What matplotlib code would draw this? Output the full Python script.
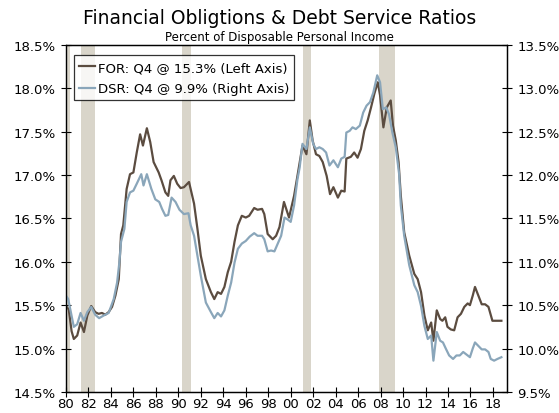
import matplotlib
matplotlib.use("Agg")
import matplotlib.pyplot as plt

# Financial obligations ratio (left axis), % of disposable personal income
for_year = [1980.0, 1980.25, 1980.5, 1980.7, 1981.0, 1981.3, 1981.6, 1981.9, 1982.25, 1982.6,
            1982.9, 1983.2, 1983.5, 1983.8, 1984.1, 1984.4, 1984.7, 1984.9, 1985.1, 1985.4,
            1985.7, 1986.0, 1986.3, 1986.6, 1986.85, 1987.2, 1987.5, 1987.8, 1988.25, 1988.5,
            1988.85, 1989.1, 1989.3, 1989.6, 1989.9, 1990.2, 1990.5, 1990.95, 1991.4, 1991.7,
            1992.0, 1992.45, 1992.9, 1993.2, 1993.5, 1993.8, 1994.1, 1994.4, 1994.7, 1995.0,
            1995.3, 1995.65, 1996.0, 1996.3, 1996.75, 1997.05, 1997.45, 1997.65, 1997.95, 1998.4,
            1998.7, 1999.0, 1999.4, 1999.85, 2000.3, 2000.6, 2001.05, 2001.4, 2001.7, 2001.95,
            2002.25, 2002.55, 2002.85, 2003.2, 2003.5, 2003.8, 2004.2, 2004.5, 2004.8, 2004.95,
            2005.35, 2005.65, 2005.95, 2006.25, 2006.55, 2006.85, 2007.15, 2007.45, 2007.75, 2007.95,
            2008.25, 2008.55, 2008.9, 2009.1, 2009.35, 2009.6, 2009.8, 2010.1, 2010.55, 2011.0,
            2011.3, 2011.6, 2011.9, 2012.2, 2012.5, 2012.7, 2013.0, 2013.3, 2013.5, 2013.75,
            2013.95, 2014.25, 2014.55, 2014.85, 2015.15, 2015.45, 2015.75, 2015.95, 2016.2, 2016.4,
            2016.7, 2017.0, 2017.3, 2017.6, 2017.95, 2018.3, 2018.75]
for_val = [15.49, 15.45, 15.20, 15.11, 15.15, 15.30, 15.19, 15.38, 15.49, 15.42,
           15.40, 15.41, 15.39, 15.42, 15.48, 15.61, 15.80, 16.32, 16.42, 16.84,
           17.01, 17.03, 17.26, 17.47, 17.34, 17.54, 17.38, 17.15, 17.03, 16.94,
           16.80, 16.76, 16.94, 16.99, 16.90, 16.85, 16.86, 16.92, 16.67, 16.38,
           16.07, 15.80, 15.65, 15.57, 15.65, 15.63, 15.71, 15.88, 16.00, 16.23,
           16.42, 16.53, 16.51, 16.53, 16.62, 16.60, 16.61, 16.55, 16.32, 16.26,
           16.30, 16.40, 16.69, 16.51, 16.76, 16.99, 17.34, 17.24, 17.63, 17.40,
           17.24, 17.22, 17.15, 16.99, 16.78, 16.86, 16.74, 16.82, 16.81, 17.19,
           17.21, 17.26, 17.20, 17.30, 17.51, 17.63, 17.78, 17.94, 18.07, 17.92,
           17.55, 17.78, 17.86, 17.57, 17.40, 17.15, 16.76, 16.34, 16.07, 15.86,
           15.80, 15.65, 15.38, 15.21, 15.30, 15.09, 15.44, 15.34, 15.32, 15.36,
           15.25, 15.22, 15.21, 15.36, 15.40, 15.48, 15.52, 15.50, 15.61, 15.71,
           15.61, 15.51, 15.51, 15.48, 15.32, 15.32, 15.32]

# Debt service ratio (right axis)
dsr_year = [1980.0, 1980.2, 1980.7, 1981.0, 1981.3, 1981.6, 1981.9, 1982.25, 1982.6, 1982.95,
            1983.35, 1983.8, 1984.25, 1984.55, 1984.75, 1984.9, 1985.2, 1985.4, 1985.7, 1986.0,
            1986.3, 1986.7, 1986.9, 1987.2, 1987.6, 1987.95, 1988.3, 1988.55, 1988.85, 1989.1,
            1989.4, 1989.75, 1990.1, 1990.5, 1990.9, 1991.1, 1991.4, 1991.7, 1992.0, 1992.45,
            1992.9, 1993.2, 1993.5, 1993.8, 1994.1, 1994.4, 1994.7, 1995.0, 1995.3, 1995.65,
            1996.0, 1996.35, 1996.75, 1997.05, 1997.45, 1997.65, 1997.95, 1998.25, 1998.55, 1998.85,
            1999.15, 1999.45, 1999.7, 2000.0, 2000.3, 2000.6, 2000.8, 2001.05, 2001.4, 2001.7,
            2002.0, 2002.25, 2002.55, 2002.85, 2003.15, 2003.45, 2003.8, 2004.2, 2004.5, 2004.8,
            2004.95, 2005.25, 2005.5, 2005.8, 2006.15, 2006.45, 2006.75, 2007.05, 2007.35, 2007.7,
            2007.95, 2008.2, 2008.5, 2008.75, 2009.05, 2009.35, 2009.65, 2009.8, 2010.1, 2010.55,
            2011.0, 2011.3, 2011.6, 2011.9, 2012.2, 2012.5, 2012.7, 2013.0, 2013.3, 2013.55,
            2013.8, 2014.1, 2014.45, 2014.75, 2015.05, 2015.35, 2015.65, 2015.95, 2016.2, 2016.4,
            2016.7, 2017.0, 2017.3, 2017.6, 2017.8, 2018.1, 2018.4, 2018.75]
dsr_val = [10.61, 10.57, 10.25, 10.28, 10.41, 10.32, 10.42, 10.48, 10.39, 10.35,
           10.38, 10.41, 10.57, 10.76, 10.99, 11.23, 11.38, 11.69, 11.80, 11.82,
           11.90, 12.01, 11.88, 12.01, 11.84, 11.72, 11.69, 11.61, 11.53, 11.54,
           11.74, 11.69, 11.60, 11.55, 11.56, 11.42, 11.30, 11.07, 10.84, 10.53,
           10.42, 10.35, 10.41, 10.37, 10.44, 10.61, 10.76, 10.99, 11.15, 11.21,
           11.24, 11.29, 11.33, 11.30, 11.30, 11.26, 11.12, 11.13, 11.12, 11.21,
           11.30, 11.51, 11.49, 11.46, 11.65, 11.95, 12.09, 12.36, 12.30, 12.55,
           12.36, 12.30, 12.32, 12.30, 12.26, 12.11, 12.17, 12.09, 12.19, 12.21,
           12.49, 12.51, 12.55, 12.53, 12.57, 12.72, 12.80, 12.84, 12.95, 13.15,
           13.07, 12.76, 12.78, 12.70, 12.49, 12.32, 12.01, 11.65, 11.30, 10.96,
           10.73, 10.65, 10.49, 10.26, 10.11, 10.15, 9.86, 10.19, 10.09, 10.07,
           10.00, 9.92, 9.88, 9.92, 9.92, 9.96, 9.93, 9.90, 10.00, 10.07,
           10.03, 9.99, 9.99, 9.96, 9.88, 9.86, 9.88, 9.90]

recessions = [(1980.0, 1980.35), (1981.33, 1982.58), (1990.3, 1991.1), (2001.1, 2001.8), (2007.85, 2009.27)]

left_ticks = [14.5, 15.0, 15.5, 16.0, 16.5, 17.0, 17.5, 18.0, 18.5]
right_ticks = [9.5, 10.0, 10.5, 11.0, 11.5, 12.0, 12.5, 13.0, 13.5]
x_ticks = list(range(1980, 2019, 2))

fig = plt.figure(figsize=(5.59, 4.14), dpi=100)
ax = fig.add_axes([0.118, 0.051, 0.789, 0.838])
ax2 = ax.twinx()

for a, b in recessions:
    ax.axvspan(a, b, color="#d9d5ca", lw=0, zorder=0)

ln1, = ax.plot(for_year, for_val, color="#5b4c40", lw=1.6,
               label="FOR: Q4 @ 15.3% (Left Axis)")
ln2, = ax2.plot(dsr_year, dsr_val, color="#8aa6ba", lw=1.6,
                label="DSR: Q4 @ 9.9% (Right Axis)")

ax.set_xlim(1980, 2019.25)
ax.set_ylim(14.5, 18.5)
ax2.set_ylim(9.5, 13.5)
ax.set_xticks(x_ticks)
ax.set_xticklabels(["%02d" % (y % 100) for y in x_ticks])
ax.set_yticks(left_ticks)
ax.set_yticklabels(["%.1f%%" % v for v in left_ticks])
ax2.set_yticks(right_ticks)
ax2.set_yticklabels(["%.1f%%" % v for v in right_ticks])

for a in (ax, ax2):
    a.tick_params(direction="inout", length=7, width=0.8, labelsize=9.5, colors="black", pad=4)
    for s in a.spines.values():
        s.set_color("black")
        s.set_linewidth(0.9)
ax.tick_params(axis="x", pad=0.5)
ax.spines["left"].set_color("#555555")

leg = ax2.legend(handles=[ln1, ln2], loc="upper left", bbox_to_anchor=(0.018, 0.97),
                 fontsize=9.5, frameon=True, fancybox=False, handlelength=1.2,
                 handletextpad=0.2, borderpad=0.4, labelspacing=0.65, borderaxespad=0)
leg.get_frame().set_edgecolor("black")
leg.get_frame().set_linewidth(0.9)

fig.text(0.5, 0.955, "Financial Obligtions & Debt Service Ratios", ha="center", va="center", fontsize=13.5)
fig.text(0.5, 0.91, "Percent of Disposable Personal Income", ha="center", va="center", fontsize=8.5)

fig.savefig("out.png", dpi=100)
